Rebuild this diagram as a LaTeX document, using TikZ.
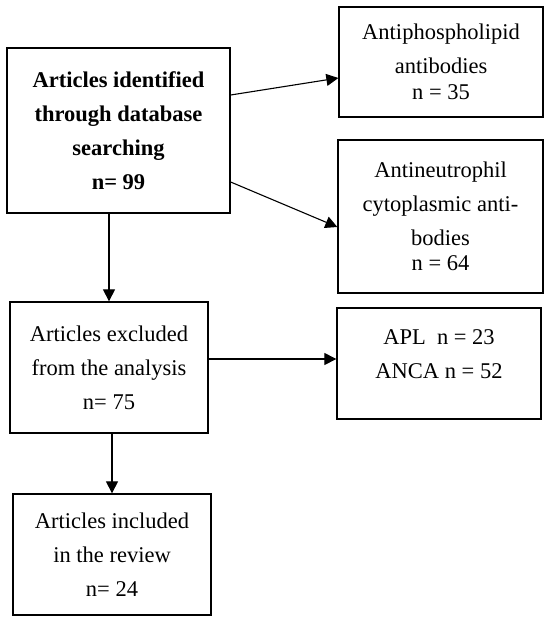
\documentclass[tikz,border=0pt]{standalone}
\usepackage{fontspec}
\setmainfont{Liberation Serif}
\usetikzlibrary{arrows.meta, positioning, calc}

\begin{document}
\begin{tikzpicture}[x=1pt,y=-1pt,
  box/.style={draw, line width=1.3pt, align=center, inner sep=2pt, font=\fontsize{22.5}{34}\selectfont},
  flow/.style={line width=1.1pt, -{Triangle[length=12pt,width=12pt]}}]
\useasboundingbox (0,0) rectangle (550,621);
% Articles et sous-groupes
\node[box, font=\bfseries\fontsize{22.5}{34}\selectfont, minimum width=223pt, minimum height=165pt](art_id) at (118.5,130.5) {Articles identified\\through database\\searching\\n= 99};
\node[box, minimum width=204pt, minimum height=110pt](art_apl) at (441,62) {Antiphospholipid\\antibodies\\[-8pt]n = 35};
\node[box, minimum width=205pt, minimum height=153pt](art_anca) at (440.5,216.5) {Antineutrophil\\cytoplasmic anti-\\bodies\\[-9pt]n = 64};
\node[box, minimum width=198pt, minimum height=131pt](art_excl) at (109,367.5) {Articles excluded\\from the analysis\\n= 75};
\node[box, minimum width=204pt, minimum height=111pt, text depth=19pt](art_excl_n) at (439,363.5) {APL\ \ n = 23\\ANCA n = 52};
\node[box, minimum width=198pt, minimum height=121pt](art_incl) at (112,554.5) {Articles included\\in the review\\n= 24};
% Fleches
\draw[flow] ([yshift=35.5pt]art_id.east) -- ([yshift=-16pt]art_apl.west);
\draw[flow] ([yshift=-51.5pt]art_id.east) -- ([yshift=-10.5pt]art_anca.west);
\draw[flow] (art_excl.north |- art_id.south) -- (art_excl.north);
\draw[flow] ([yshift=8.5pt]art_excl.east) -- ([yshift=4.5pt]art_excl_n.west);
\draw[flow] (art_incl.north |- art_excl.south) -- (art_incl.north);
\end{tikzpicture}
\end{document}
